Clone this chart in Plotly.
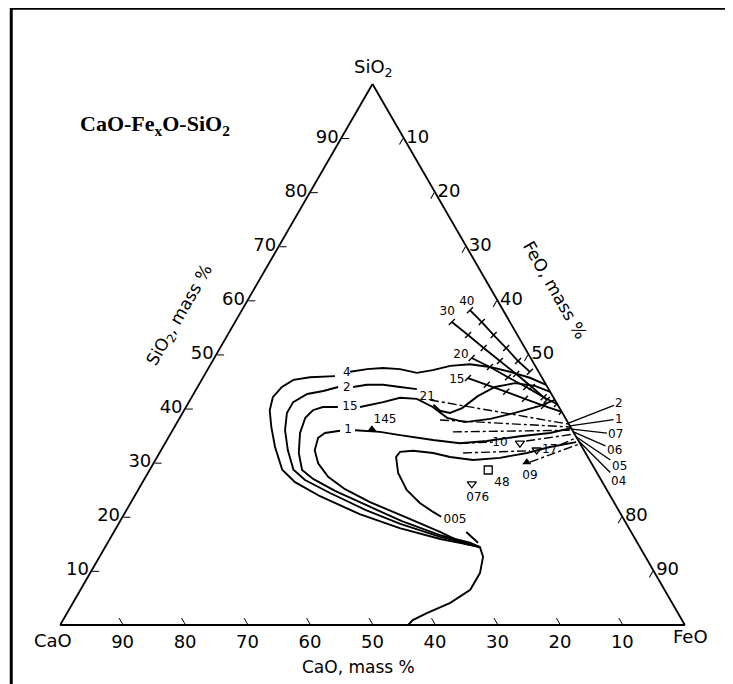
import plotly.graph_objects as go

# iso-lines, SiO2 / FeO in mass %, CaO is the rest
c4_sio2 = [14.4, 14.8, 15.9, 17.9, 20.5, 23.8, 26.4, 28.7, 32.9, 36.6, 39.7, 42.1, 44.0, 45.3, 45.8, 46.0, None,
           46.8, 47.3, 47.5, 47.3, 46.6, 47.1, 47.9, 48.2, 47.7, 46.8, 45.7, 44.4]
c4_feo = [60.0, 58.2, 52.9, 45.4, 37.7, 29.7, 24.4, 21.2, 17.95, 15.5, 13.7, 13.0, 13.5, 14.7, 17.1, 21.0, None,
          23.0, 25.5, 27.9, 30.75, 33.8, 36.1, 38.5, 41.5, 44.95, 48.6, 52.35, 55.6]

c2_sio2 = [14.4, 15.0, 16.3, 18.7, 21.3, 24.4, 26.8, 28.7, 32.3, 36.0, 39.2, 41.2, 42.7, 43.25, 44.0, None,
           44.0, 44.4, 44.4, 44.0, 43.6, None, 40.7, 39.6, 39.2, 40.1, 42.3, 44.0, 44.7, 44.2, 43.1]
c2_feo = [60.0, 58.1, 52.7, 45.1, 38.2, 31.0, 25.8, 23.0, 20.3, 18.0, 16.7, 16.7, 18.2, 20.5, 22.5, None,
          24.9, 26.9, 29.5, 32.4, 35.3, None, 39.4, 41.0, 42.8, 44.3, 45.7, 47.6, 50.45, 53.9, 56.9]

c15_sio2 = [14.4, 15.2, 16.6, 19.2, 22.0, 24.8, 27.0, 28.65, 31.8, 35.5, 38.3, 39.7, 40.3, 40.3, None,
            40.3, 41.2, 42.0, 41.8, 40.3, 38.3, 37.5, 38.1, 39.2, 40.5, 41.6]
c15_feo = [60.0, 58.0, 52.5, 45.1, 38.3, 31.6, 27.0, 24.4, 22.3, 20.65, 20.1, 20.6, 21.9, 24.3, None,
           27.85, 31.1, 33.4, 36.2, 39.5, 42.8, 46.05, 49.8, 53.2, 56.55, 58.4]

c1_sio2 = [0.0, 0.9, 2.2, 4.1, 6.5, 9.6, 12.6, 14.4, 15.0, 17.2, 20.0, 22.7, 25.1, 27.4, 29.9, 32.3, 34.6, 35.5, 35.9, None,
           36.0, 35.7, 35.1, 34.2, 33.6, 34.0, 34.9, 35.5, 36.4]
c1_feo = [55.7, 56.0, 57.6, 60.4, 62.4, 62.4, 61.4, 60.0, 57.3, 52.2, 45.2, 38.25, 33.05, 29.2, 26.35, 24.6, 24.0, 24.65, 26.85, None,
          29.2, 33.35, 36.85, 42.6, 47.2, 51.3, 56.15, 60.65, 63.6]

c005_sio2 = [33.8, 32.9, 31.8, 30.9, 30.5, 31.05, 31.8, 32.2, 32.0, 31.05, 28.1, 24.95, 22.55, 20.9, 20.0, None, 17.2, 15.2]
c005_feo = [65.7, 61.95, 58.8, 54.95, 50.85, 46.9, 43.8, 40.4, 38.4, 38.25, 40.05, 43.0, 46.3, 49.25, 51.0, None, 56.4, 59.3]

# lines with cross ticks near the FeO-SiO2 side
t40_sio2 = [58.2, 56.0, 53.6, 51.2, 48.8, 46.8]
t40_feo = [36.5, 39.5, 42.6, 45.8, 48.9, 51.8]
t30_sio2 = [56.0, 53.6, 51.2, 48.8, 46.4, 44.0, 41.6]
t30_feo = [34.7, 38.5, 42.2, 46.0, 49.8, 53.5, 57.1]
t20_sio2 = [49.35, 47.7, 45.8, 44.0, 42.1, 40.85]
t20_feo = [41.2, 44.95, 48.8, 52.6, 56.35, 59.1]
t15_sio2 = [45.65, 44.4, 43.1, 41.8, 40.5, 39.4]
t15_feo = [42.45, 46.1, 49.85, 53.5, 57.2, 60.6]

# dash-dot lines running into the FeO-SiO2 side
dd_sio2 = [[41.6, 37.15], [37.9, 36.6], [35.7, 36.0], [33.6, 33.8, None, 34.0, 35.3],
           [31.8, 32.2, None, 33.3, 34.6], [30.1, 33.5]]
dd_feo = [[38.4, 62.7], [41.85, 63.3], [45.0, 63.9], [47.2, 52.4, None, 57.6, 64.6],
          [48.6, 59.1, None, 63.35, 65.3], [60.15, 66.45]]

# measured slags
up_sio2, up_feo = [36.2, 30.1], [31.8, 59.65]
down_sio2, down_feo = [33.6, 32.35, 26.1], [56.8, 60.1, 52.85]
sq_sio2, sq_feo = [28.65], [54.2]

lab_text = ["4", "2", "15", "1", "21", "145", "10", "17", "09", "48", "076", "005", "30", "40", "20", "15"]
lab_sio2 = [46.6, 43.8, 40.3, 36.0, 42.1, 37.9, 33.6, 32.35, 27.5, 26.25, 23.5, 19.4, 57.9, 59.7, 49.9, 45.3]
lab_feo = [22.6, 24.0, 26.25, 28.1, 37.7, 33.05, 53.6, 62.2, 61.45, 57.6, 55.1, 53.5, 33.0, 35.25, 39.2, 40.85]

# lines leaving the triangle on the right
out_text = ["2", "1", "07", "06", "05", "04"]
out_sio2 = [37.3, 36.8, 36.2, 35.7, 34.75, 34.0]
out_offset = [(51, -20), (49, -7), (44, 5), (41, 18), (43, 29), (40, 40)]

ab_ticks = [10, 20, 30, 40, 50, 60, 70, 80, 90]
c_ticks = [10, 20, 30, 40, 50, 80, 90]

FONT = "DejaVu Sans"


def cao(s, f):
    return [None if a is None else round(100 - a - b, 2) for a, b in zip(s, f)]


def line(s, f, dash="solid", width=1.9):
    return go.Scatterternary(a=s, b=cao(s, f), c=f, mode="lines",
                             line=dict(color="black", width=width, dash=dash), hoverinfo="skip")


fig = go.Figure()
for s, f in [(c4_sio2, c4_feo), (c2_sio2, c2_feo), (c15_sio2, c15_feo), (c1_sio2, c1_feo), (c005_sio2, c005_feo)]:
    fig.add_trace(line(s, f))
for s, f in [(t40_sio2, t40_feo), (t30_sio2, t30_feo), (t20_sio2, t20_feo), (t15_sio2, t15_feo)]:
    fig.add_trace(go.Scatterternary(a=s, b=cao(s, f), c=f, mode="lines+markers",
                                    line=dict(color="black", width=1.8),
                                    marker=dict(symbol="line-ne", size=6, line=dict(color="black", width=1.4)),
                                    hoverinfo="skip"))
for s, f in zip(dd_sio2, dd_feo):
    fig.add_trace(line(s, f, dash="dashdot", width=1.4))

fig.add_trace(go.Scatterternary(a=up_sio2, b=cao(up_sio2, up_feo), c=up_feo, mode="markers",
                                marker=dict(symbol="triangle-up", size=8, color="black")))
fig.add_trace(go.Scatterternary(a=down_sio2, b=cao(down_sio2, down_feo), c=down_feo, mode="markers",
                                marker=dict(symbol="triangle-down-open", size=8, color="black",
                                            line=dict(width=1.3))))
fig.add_trace(go.Scatterternary(a=sq_sio2, b=cao(sq_sio2, sq_feo), c=sq_feo, mode="markers",
                                marker=dict(symbol="square-open", size=8, color="black",
                                            line=dict(width=1.3))))
fig.add_trace(go.Scatterternary(a=lab_sio2, b=cao(lab_sio2, lab_feo), c=lab_feo, mode="text",
                                text=lab_text, textfont=dict(family=FONT, size=12, color="black")))

for t, s, (dx, dy) in zip(out_text, out_sio2, out_offset):
    fig.add_annotation(x=((100 - s) + s / 2) / 100, y=s / 100, xref="paper", yref="paper",
                       text=t, showarrow=True, arrowhead=0, arrowwidth=1.3, arrowcolor="black",
                       ax=dx, ay=dy, font=dict(family=FONT, size=12, color="black"))

axis = dict(ticks="inside", ticklen=7, tickwidth=1.2, tickcolor="black",
            linecolor="black", linewidth=1.8, showgrid=False, title=dict(text=""),
            tickfont=dict(family=FONT, size=18, color="black"))
fig.update_layout(
    width=733, height=684,
    margin=dict(l=52, r=56, t=76, b=67),
    paper_bgcolor="white",
    showlegend=False,
    ternary=dict(
        sum=100, bgcolor="white",
        aaxis=dict(tickvals=ab_ticks, **axis),
        baxis=dict(tickvals=ab_ticks, **axis),
        caxis=dict(tickvals=c_ticks, **axis),
    ),
)

# corner names, side names and title
for txt, x, y, size in [("SiO<sub>2</sub>", 0.501, 1.03, 18), ("CaO", -0.011, -0.028, 18),
                        ("FeO", 1.008, -0.022, 18)]:
    fig.add_annotation(x=x, y=y, xref="paper", yref="paper", xanchor="center", yanchor="middle",
                       showarrow=False, text=txt, font=dict(family=FONT, size=size, color="black"))
fig.add_annotation(x=0.029, y=0.924, xref="paper", yref="paper", xanchor="left", yanchor="middle",
                   showarrow=False, text="<b>CaO-Fe<sub>x</sub>O-SiO<sub>2</sub></b>",
                   font=dict(family="Liberation Serif", size=22, color="black"))
fig.add_annotation(x=0.192, y=0.573, xref="paper", yref="paper", xanchor="center", yanchor="middle",
                   showarrow=False, textangle=-60,
                   text="SiO<sub>2</sub>, mass %", font=dict(family=FONT, size=17, color="black"))
fig.add_annotation(x=0.792, y=0.619, xref="paper", yref="paper", xanchor="center", yanchor="middle",
                   showarrow=False, textangle=60,
                   text="FeO, mass %", font=dict(family=FONT, size=17, color="black"))
fig.add_annotation(x=0.477, y=-0.078, xref="paper", yref="paper", xanchor="center", yanchor="middle",
                   showarrow=False, text="CaO, mass %", font=dict(family=FONT, size=17, color="black"))

fig.add_shape(type="rect", xref="paper", yref="paper", x0=-0.078, y0=-0.2, x1=1.2, y1=1.14,
              line=dict(color="black", width=3))

fig.write_html("out.html")
